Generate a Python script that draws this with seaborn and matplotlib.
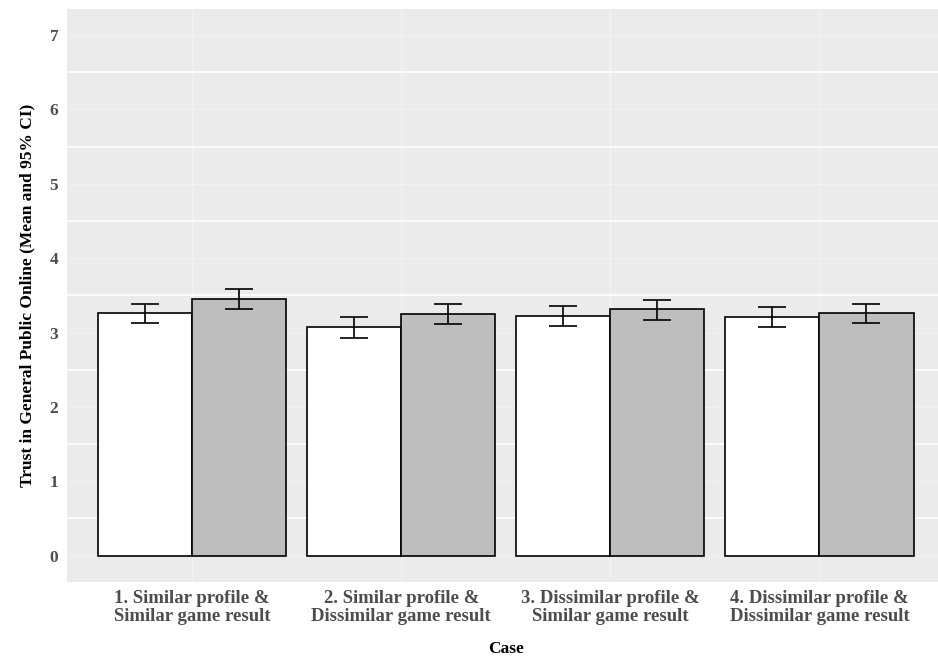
import numpy as np
import pandas as pd
import matplotlib
matplotlib.use("Agg")
import matplotlib.pyplot as plt
from matplotlib.ticker import MultipleLocator
import seaborn as sns

cases = [
    "1. Similar profile &\nSimilar game result",
    "2. Similar profile &\nDissimilar game result",
    "3. Dissimilar profile &\nSimilar game result",
    "4. Dissimilar profile &\nDissimilar game result",
]
groups = ["Condition A", "Condition B"]
mean_a = [3.26, 3.07, 3.22, 3.21]
low_a = [3.13, 2.92, 3.09, 3.07]
high_a = [3.39, 3.21, 3.36, 3.34]
mean_b = [3.45, 3.25, 3.31, 3.26]
low_b = [3.32, 3.11, 3.17, 3.13]
high_b = [3.58, 3.39, 3.44, 3.39]
y_ticks = [0, 1, 2, 3, 4, 5, 6, 7]

df = pd.DataFrame({
    "case": cases * 2,
    "group": [groups[0]] * 4 + [groups[1]] * 4,
    "mean": mean_a + mean_b,
    "low": low_a + low_b,
    "high": high_a + high_b,
})

sns.set_theme(style="darkgrid")
plt.rcParams["font.family"] = ["Liberation Serif", "DejaVu Serif"]
plt.rcParams["font.weight"] = "bold"

W, H = 938, 662
fig = plt.figure(figsize=(W / 100, H / 100), dpi=100)
left, right, top, bottom = 66.7, 944.9, 9, 581.7
ax = fig.add_axes([left / W, (H - bottom) / H, (right - left) / W, (bottom - top) / H])
ax.set_facecolor("#EBEBEB")

sns.barplot(
    data=df, x="case", y="mean", hue="group", order=cases, hue_order=groups,
    palette=["#FFFFFF", "#BEBEBE"], edgecolor="black", linewidth=1.2,
    width=0.9, errorbar=None, legend=False, ax=ax, zorder=2,
)

for cont, g in zip(ax.containers, groups):
    sub = df[df["group"] == g].set_index("case").loc[cases]
    xs = [p.get_x() + p.get_width() / 2 for p in cont.patches]
    yerr = np.vstack([sub["mean"] - sub["low"], sub["high"] - sub["mean"]])
    ax.errorbar(xs, sub["mean"], yerr=yerr, fmt="none", ecolor="black",
                elinewidth=1.2, capsize=10, capthick=1.2, zorder=3)

ax.set_xlim(-0.6, 3.6)
ax.set_ylim(-0.35, 7.35)
ax.set_yticks(y_ticks)
ax.yaxis.set_minor_locator(MultipleLocator(0.5))
ax.grid(which="major", color="#F2F2F2", linewidth=0.8, zorder=0)
ax.grid(which="minor", axis="y", color="white", linewidth=1.2, zorder=0)
ax.set_axisbelow(True)
for s in ax.spines.values():
    s.set_visible(False)

ax.tick_params(axis="both", which="major", length=3, width=0.8, color="#333333",
               labelcolor="#4D4D4D", labelsize=12.5, pad=3)
ax.tick_params(axis="both", which="minor", length=0)
for lab in ax.get_yticklabels():
    lab.set_fontweight("bold")
ax.set_xticks(range(4))
ax.set_xticklabels(cases, fontsize=13.5, fontweight="bold", color="#4D4D4D",
                   linespacing=1.1)

ax.set_xlabel("Case", fontsize=12.5, fontweight="bold", color="black", labelpad=11)
ax.set_ylabel("Trust in General Public Online (Mean and 95% CI)", fontsize=12.5,
              fontweight="bold", color="black", labelpad=10)

fig.savefig("out.png", dpi=100)
